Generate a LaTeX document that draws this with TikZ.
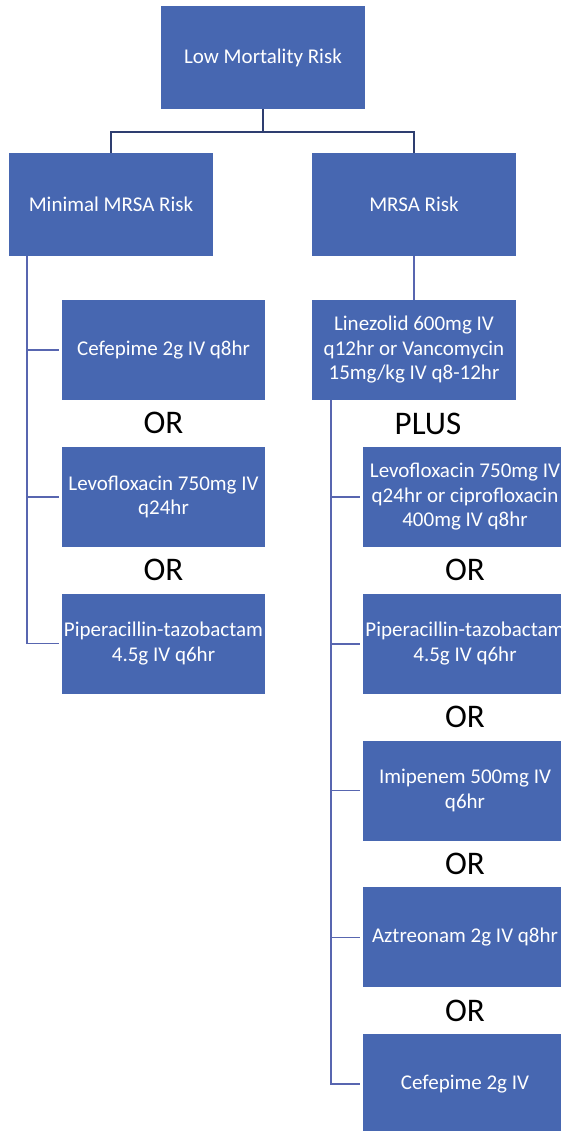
\documentclass[tikz,border=0pt]{standalone}
\usepackage{fontspec}
\setmainfont{Carlito}
\usepackage{xcolor}
\usetikzlibrary{positioning}

\definecolor{boxblue}{RGB}{71,103,177}
\definecolor{trunkblue}{RGB}{46,62,112}
\definecolor{twigblue}{RGB}{88,102,176}

\begin{document}
\begin{tikzpicture}[
        x=1pt, y=-1pt,
        node distance = 146.75pt,
        riskbox/.style={rectangle, fill=boxblue, text=white, minimum width=204pt,
            minimum height=103pt, inner sep=0pt, align=center,
            font=\fontsize{21}{24.5}\selectfont},
        drugbox/.style={riskbox, minimum height=100pt},
        orlabel/.style={font=\fontsize{33}{37}\selectfont, text=black, inner sep=0pt},
        trunkline/.style={draw=trunkblue, line width=2pt},
        twigline/.style={draw=twigblue, line width=1.5pt},
        branchline/.style={twigline, shorten >=3pt}]

        \clip (0,0) rectangle (561,1131);

        % NODES
        % risk levels
        \node[riskbox] (low) at (263,57.5) {Low Mortality Risk};
        \node[riskbox] (minimal) at (111,204.3) {Minimal MRSA Risk};
        \node[riskbox] (mrsa) at (414,204.3) {MRSA Risk};

        % minimal MRSA risk column
        \node[drugbox, minimum width=203pt] (lcef) at (163.5,350) {Cefepime 2g IV q8hr};
        \node[drugbox, minimum width=203pt, below of = lcef] (llevo) {Levofloxacin 750mg IV\\ q24hr};
        \node[drugbox, minimum width=203pt, below of = llevo] (lpip) {Piperacillin-tazobactam\\ 4.5g IV q6hr};
        \node[orlabel, below of = lcef, node distance = 73.4pt] (lor1) {OR};
        \node[orlabel, below of = llevo, node distance = 73.4pt] (lor2) {OR};

        % MRSA risk column
        \node[drugbox] (linez) at (414,350) {Linezolid 600mg IV\\ q12hr or Vancomycin\\ 15mg/kg IV q8-12hr};
        \node[orlabel] (plus) at (428,423.5) {PLUS};
        \node[drugbox] (rlevo) at (465,497) {Levofloxacin 750mg IV\\ q24hr or ciprofloxacin\\ 400mg IV q8hr};
        \node[drugbox, below of = rlevo] (rpip) {Piperacillin-tazobactam\\ 4.5g IV q6hr};
        \node[drugbox, below of = rpip] (rimi) {Imipenem 500mg IV\\ q6hr};
        \node[drugbox, below of = rimi] (razt) {Aztreonam 2g IV q8hr};
        \node[drugbox, below of = razt] (rcef) {Cefepime 2g IV};
        \node[orlabel, below of = rlevo, node distance = 73.4pt] (ror1) {OR};
        \node[orlabel, below of = rpip, node distance = 73.4pt] (ror2) {OR};
        \node[orlabel, below of = rimi, node distance = 73.4pt] (ror3) {OR};
        \node[orlabel, below of = razt, node distance = 73.4pt] (ror4) {OR};

        % spines
        \coordinate (split) at ([yshift=-22.7pt]low.south);
        \coordinate (lspine) at ([xshift=18pt]minimal.south west);
        \coordinate (rspine) at ([xshift=19pt]linez.south west);

        % ARROWS
        \draw[trunkline] (low.south)--(split) -| (minimal.north);
        \draw[trunkline] (split) -| (mrsa.north);
        \draw[twigline] (mrsa.south)--(linez.north);

        \draw[branchline] (lspine) |- (lpip.west);
        \draw[branchline] (lcef.west -| lspine)--(lcef.west);
        \draw[branchline] (llevo.west -| lspine)--(llevo.west);

        \draw[branchline] (rspine) |- (rcef.west);
        \draw[branchline] (rlevo.west -| rspine)--(rlevo.west);
        \draw[branchline] (rpip.west -| rspine)--(rpip.west);
        \draw[branchline] (rimi.west -| rspine)--(rimi.west);
        \draw[branchline] (razt.west -| rspine)--(razt.west);
\end{tikzpicture}
\end{document}
